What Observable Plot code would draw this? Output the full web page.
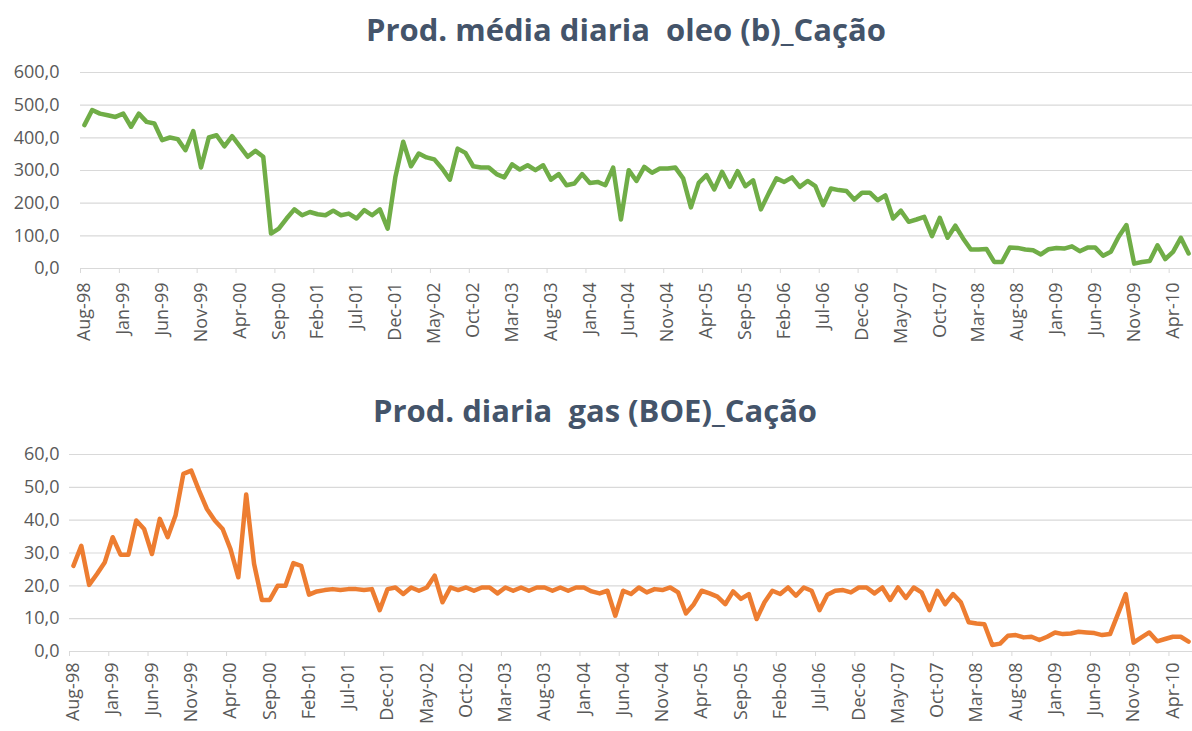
<!DOCTYPE html>
<html>
<head>
<meta charset="utf-8">
<script src="https://cdn.jsdelivr.net/npm/d3@7"></script>
<script src="https://cdn.jsdelivr.net/npm/@observablehq/plot@0.6"></script>
<style>
  html, body { margin: 0; padding: 0; background: #ffffff; }
  #root { position: relative; width: 1192px; height: 731px; overflow: hidden; background: #ffffff; }
  .title { position: absolute; text-align: left; font-family: "Open Sans", Lato, sans-serif; font-weight: 700; font-size: 31px; line-height: 42px; color: #44546a; white-space: pre; }
  .chart { position: absolute; left: 0; }
</style>
</head>
<body>
<div id="root">
  <div class="title" id="t1" style="top:8px; left:366px;"></div>
  <div class="chart" id="c1" style="top:55px;"></div>
  <div class="title" id="t2" style="top:389px; left:373px;"></div>
  <div class="chart" id="c2" style="top:440px;"></div>
</div>
<script>
// ---- data ----
const oilTitle = "Prod. média diaria  oleo (b)_Cação";
const gasTitle = "Prod. diaria  gas (BOE)_Cação";

// monthly values, Aug-98 .. Jun-10
const oil = [
  439, 485, 474, 469, 464, 474, 434, 474, 449, 444,
  393, 401, 396, 362, 421, 309, 401, 408, 374, 405,
  374, 342, 360, 342, 107, 122, 153, 181, 163, 173,
  166, 163, 177, 163, 168, 153, 179, 163, 181, 122,
  281, 388, 313, 352, 340, 334, 306, 272, 367, 354,
  313, 309, 309, 289, 279, 319, 303, 316, 301, 316,
  272, 289, 255, 260, 289, 262, 265, 255, 309, 150,
  301, 268, 311, 293, 306, 306, 309, 276, 187, 262,
  286, 242, 296, 250, 298, 252, 270, 181, 230, 276,
  265, 279, 250, 268, 252, 194, 245, 240, 237, 211,
  232, 232, 209, 224, 153, 177, 143, 150, 158, 99,
  155, 94, 131, 92, 58, 58, 60, 20, 20, 64,
  63, 58, 56, 43, 59, 63, 61, 68, 53, 64,
  64, 39, 51, 97, 133, 15, 20, 23, 71, 29,
  51, 94, 46
];
const gas = [
  26.1, 32.2, 20.3, 23.6, 27.2, 34.8, 29.5, 29.5, 39.9, 37.3,
  29.7, 40.4, 34.8, 41.4, 54.1, 55.1, 49.0, 43.4, 39.9, 37.3,
  31.2, 22.6, 47.8, 26.7, 15.7, 15.7, 20.0, 20.0, 26.9, 26.1,
  17.3, 18.3, 18.7, 19.0, 18.7, 19.0, 19.0, 18.7, 19.0, 12.6,
  19.0, 19.5, 17.5, 19.5, 18.5, 19.5, 23.1, 15.0, 19.5, 18.7,
  19.5, 18.5, 19.5, 19.5, 17.7, 19.5, 18.5, 19.5, 18.5, 19.5,
  19.5, 18.5, 19.5, 18.5, 19.5, 19.5, 18.3, 17.7, 18.5, 10.9,
  18.5, 17.5, 19.5, 18.0, 19.0, 18.7, 19.5, 18.0, 11.6, 14.4,
  18.5, 17.7, 16.7, 14.4, 18.3, 16.0, 17.5, 9.9, 15.0, 18.5,
  17.5, 19.5, 17.0, 19.5, 18.5, 12.6, 17.3, 18.5, 18.7, 18.0,
  19.5, 19.5, 17.7, 19.5, 15.7, 19.5, 16.3, 19.5, 18.0, 12.6,
  18.5, 14.4, 17.5, 15.0, 8.9, 8.5, 8.3, 2.0, 2.4, 4.8,
  5.0, 4.3, 4.5, 3.5, 4.5, 5.8, 5.3, 5.5, 6.0, 5.8,
  5.6, 5.0, 5.3, 11.4, 17.5, 2.7, 4.3, 5.8, 3.1, 3.8,
  4.5, 4.5, 3.0
];
const tickLabels = [
  "Aug-98","Jan-99","Jun-99","Nov-99","Apr-00","Sep-00","Feb-01","Jul-01",
  "Dec-01","May-02","Oct-02","Mar-03","Aug-03","Jan-04","Jun-04","Nov-04",
  "Apr-05","Sep-05","Feb-06","Jul-06","Dec-06","May-07","Oct-07","Mar-08",
  "Aug-08","Jan-09","Jun-09","Nov-09","Apr-10"
];
const tickStep = 5;
const oilTicks = [0, 100, 200, 300, 400, 500, 600];
const gasTicks = [0, 10, 20, 30, 40, 50, 60];

// ---- drawing ----
function makeChart(values, yTicks, color, opts) {
  const data = values.map((v, i) => ({i, v}));
  const labelIdx = tickLabels.map((_, k) => k * tickStep);
  const fmt = d => d.toFixed(1).replace(".", ",");
  return Plot.plot({
    width: 1192,
    height: opts.height,
    marginLeft: opts.marginLeft,
    marginRight: 0,
    marginTop: opts.marginTop,
    marginBottom: opts.marginBottom,
    style: {fontFamily: "'Open Sans', Lato, sans-serif", color: "#595959", background: "transparent", overflow: "visible"},
    x: {domain: [-0.5, values.length - 0.5], axis: null},
    y: {domain: [yTicks[0], yTicks[yTicks.length - 1]], axis: null},
    marks: [
      Plot.gridY(yTicks, {stroke: "#d9d9d9", strokeOpacity: 1, strokeWidth: 1.2}),
      Plot.axisY(yTicks, {label: null, tickSize: 0, tickPadding: opts.yPad, tickFormat: fmt, fontSize: 18, fill: "#595959"}),
      Plot.axisX(labelIdx.map(i => i - 0.5), {label: null, tickSize: 5, tickFormat: () => "", stroke: "#d9d9d9", strokeOpacity: 1}),
      Plot.axisX(labelIdx, {label: null, tickSize: 0, tickPadding: opts.xPad, tickRotate: -90, tickFormat: d => tickLabels[d / tickStep], fontSize: 18, fill: "#595959"}),
      Plot.line(data, {x: "i", y: "v", stroke: color, strokeWidth: 4.5, strokeLinejoin: "round", strokeLinecap: "round"})
    ]
  });
}

document.getElementById("t1").textContent = oilTitle;
document.getElementById("t2").textContent = gasTitle;

document.getElementById("c1").appendChild(
  makeChart(oil, oilTicks, "#70ad47", {height: 300, marginTop: 17, marginBottom: 87, marginLeft: 80, yPad: 21, xPad: 14})
);
document.getElementById("c2").appendChild(
  makeChart(gas, gasTicks, "#ed7d31", {height: 291, marginTop: 14, marginBottom: 80, marginLeft: 69, yPad: 10, xPad: 11})
);
</script>
</body>
</html>
